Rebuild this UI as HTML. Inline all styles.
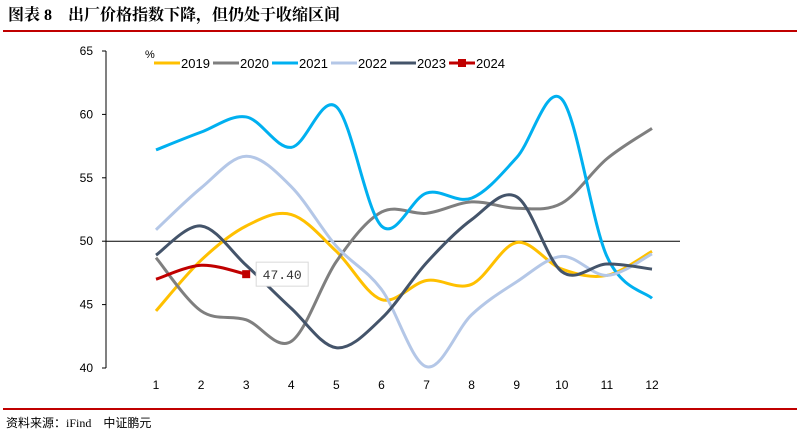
<!DOCTYPE html>
<html><head><meta charset="utf-8">
<style>
body{margin:0;background:#fff;width:799px;height:437px;overflow:hidden;font-family:"Liberation Sans","Noto Sans CJK SC",sans-serif;}
svg{display:block}
</style></head>
<body>
<svg id="c" width="799" height="437" xmlns="http://www.w3.org/2000/svg">
<text x="8" y="20" font-size="16" font-weight="bold" font-family="'Liberation Serif','Noto Serif CJK SC',serif">图表 8　出厂价格指数下降，但仍处于收缩区间</text>
<rect x="3" y="30" width="794" height="2" fill="#c00000"/>
<rect x="3" y="408" width="794" height="2" fill="#c00000"/>
<text x="6" y="427" font-size="12" font-family="'Liberation Serif','Noto Sans CJK SC',serif">资料来源：iFind　中证鹏元</text>
<g id="plot"></g>
</svg>
<script>
const months=[1,2,3,4,5,6,7,8,9,10,11,12];
const yTicks=[40,45,50,55,60,65];
const years=["2019","2020","2021","2022","2023","2024"];
const colors=["#ffc000","#7f7f7f","#00b0f0","#b4c7e7","#44546a","#c00000"];
const s2019=[44.5,48.5,51.2,52.1,49.2,45.4,46.9,46.6,49.9,47.8,47.3,49.2];
const s2020=[48.7,44.5,43.8,42.1,48.4,52.3,52.2,53.1,52.6,53.0,56.5,58.9];
const s2021=[57.2,58.6,59.8,57.4,60.6,51.2,53.8,53.4,56.6,61.2,48.8,45.5];
const s2022=[50.9,54.2,56.7,54.3,49.6,46.2,40.1,44.2,46.8,48.8,47.3,49.0];
const s2023=[48.9,51.2,48.1,44.7,41.6,43.9,48.3,51.7,53.5,47.6,48.2,47.8];
const s2024=[47.0,48.1,47.4];
const series=[s2019,s2020,s2021,s2022,s2023,s2024];
const NS="http://www.w3.org/2000/svg";
const g=document.getElementById('plot');
const X=m=>156+(m-1)*(652-156)/11;
const Y=v=>368-(v-40)*(368-51)/25;
function mk(t,a,txt){const e=document.createElementNS(NS,t);for(const k in a)e.setAttribute(k,a[k]);if(txt!==undefined)e.textContent=txt;g.appendChild(e);return e;}
// y axis
let ax=mk('line',{x1:106,y1:Y(65),x2:106,y2:Y(40),stroke:'#000','stroke-width':1});


yTicks.forEach(v=>{
 let t=mk('line',{x1:102,y1:Y(v),x2:106,y2:Y(v),stroke:'#000'});
 
 
 let l=mk('text',{x:93,y:Y(v)+4,'font-size':12,'text-anchor':'end',fill:'#000'},String(v));
 
 
});
let bl=mk('line',{x1:106,y1:Y(50),x2:680,y2:Y(50),stroke:'#000','stroke-width':1});


months.forEach(m=>{
 let l=mk('text',{x:X(m),y:389,'font-size':12,'text-anchor':'middle'},String(m));
 
 
});
let u=mk('text',{x:145,y:58,'font-size':11},'%');


function path(vals){
 const p=vals.map((v,i)=>[X(months[i]),Y(v)]);
 let d='M'+p[0][0]+','+p[0][1];
 for(let i=0;i<p.length-1;i++){
  const p0=p[i-1]||p[i],p1=p[i],p2=p[i+1],p3=p[i+2]||p2;
  const c1=[p1[0]+(p2[0]-p0[0])/6,p1[1]+(p2[1]-p0[1])/6];
  const c2=[p2[0]-(p3[0]-p1[0])/6,p2[1]-(p3[1]-p1[1])/6];
  d+=' C'+c1+' '+c2+' '+p2;
 }
 return d;
}
series.forEach((s,i)=>{
 let e=mk('path',{d:path(s),fill:'none',stroke:colors[i],'stroke-width':3});
 
 
});
// 2024 marker + label
const last=s2024.length-1;
let mkr=mk('rect',{x:X(months[last])-4,y:Y(s2024[last])-4,width:8,height:8,fill:'#c00000'});


let bx=mk('rect',{x:X(months[last])+10,y:Y(s2024[last])-12,width:52,height:24,fill:'#fff',stroke:'#d9d9d9'});


let dl=mk('text',{x:X(months[last])+36,y:Y(s2024[last])+5,'font-size':13,'text-anchor':'middle','font-family':'Liberation Mono, monospace',fill:'#333'},s2024[last].toFixed(2));


// legend
const lx=[154,213,272,331,390,449];
years.forEach((y,i)=>{
 let l=mk('line',{x1:lx[i],y1:63,x2:lx[i]+26,y2:63,stroke:colors[i],'stroke-width':3});
 
 
 if(i===5){let r=mk('rect',{x:lx[i]+9,y:59,width:8,height:8,fill:colors[i]});
  
  }
 let t=mk('text',{x:lx[i]+27,y:68,'font-size':13},y);
 
 
});
</script>
</body></html>
